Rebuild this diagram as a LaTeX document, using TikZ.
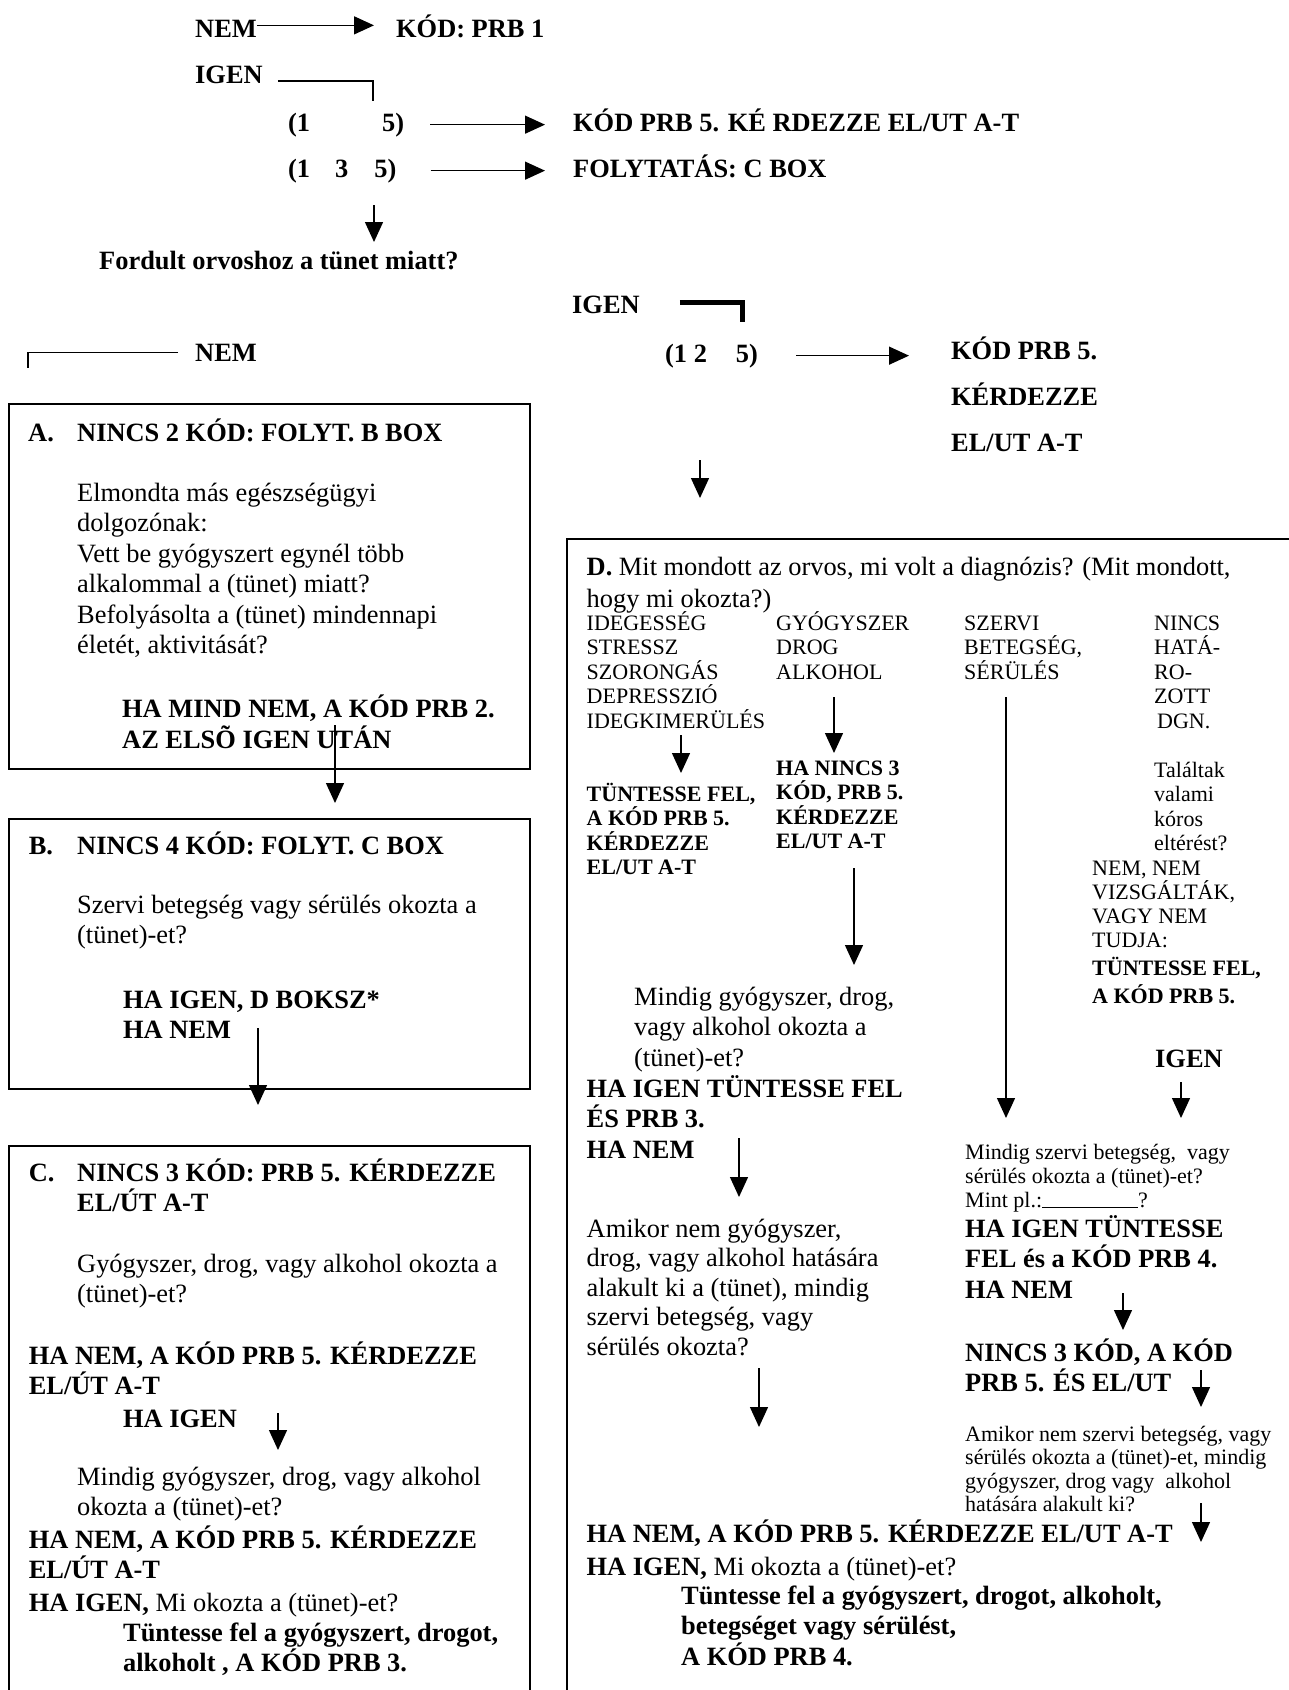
\documentclass[tikz,border=0pt]{standalone}
\usepackage{fontspec}
\setmainfont{Liberation Serif}
\usetikzlibrary{arrows.meta}

\begin{document}
\begin{tikzpicture}[x=1pt,y=-1pt,
  every node/.style={inner sep=0pt, anchor=base west, align=left},
  big/.style={font=\fontsize{26.4}{30.5}\selectfont},
  bigb/.style={font=\fontsize{26.4}{30.5}\selectfont\bfseries},
  sml/.style={font=\fontsize{22}{24.5}\selectfont},
  smlb/.style={font=\fontsize{22}{24.5}\selectfont\bfseries},
  arr/.style={-{Triangle[length=20pt,width=18pt]}, line width=1.4pt},
  ln/.style={line width=1.4pt},
  box/.style={draw, line width=1.8pt, anchor=north west}]
        \useasboundingbox (0,0) rectangle (1289,1690);
        \clip (0,0) rectangle (1289,1690);

        % top (multi-line nodes sit on the baseline of their last line)
        \node[bigb] (nem1) at (195,37) {NEM};
        \node[bigb] (kod1) at (396,37) {KÓD: PRB 1};
        \coordinate (n1) at ([yshift=3pt]nem1.east);
        \draw[arr, shorten >=22pt] (n1) -- (n1 -| kod1.west);
        \node[bigb] (igen1) at (195,83) {IGEN};
        \coordinate (b1) at (373,101);
        \draw[ln] (igen1.base east) ++(15,-2) -| (b1);
        \node[bigb] (r1) at (288,131) {(1\hspace{72pt}5)};
        \node[bigb] (k5a) at (573,131) {KÓD PRB 5. KÉ RDEZZE EL/UT A-T};
        \draw[arr, shorten <=26pt, shorten >=28pt] (r1.east) -- (r1.east -| k5a.west);
        \node[bigb] (r2) at (288,177) {(1\hspace{25pt}3\hspace{26pt}5)};
        \node[bigb] (fc) at (573,177) {FOLYTATÁS: C BOX};
        \draw[arr, shorten <=34pt, shorten >=28pt] (r2.east) -- (r2.east -| fc.west);
        \coordinate (q1s) at (374,205);
        \coordinate (q1e) at (374,242);
        \draw[arr] (q1s) -- (q1e);
        \node[bigb] (ford) at (99,269) {Fordult orvoshoz a tünet miatt?};

        % NEM branch
        \node[bigb] (nem2) at (195,361) {NEM};
        \draw[ln] (nem2.west) ++(-17,0) -- ++(-150,0) -- ++(0,16);

        % box A
        \node[box, minimum width=521pt, minimum height=365pt] (boxA) at (8,403) {};
        \node[bigb] (aA) at (28,441) {A.};
        \node[bigb] (aT) at (77,441) {NINCS 2 KÓD: FOLYT. B BOX};
        \node[big] (aQ) at (77,653.5) {Elmondta más egészségügyi\\dolgozónak:\\Vett be gyógyszert egynél több\\alkalommal a (tünet) miatt?\\Befolyásolta a (tünet) mindennapi\\életét, aktivitását?};
        \node[bigb] (aH) at (122,748) {HA MIND NEM, A KÓD PRB 2.\\AZ ELSÕ IGEN UTÁN};

        % box B
        \node[box, minimum width=521pt, minimum height=270pt] (boxB) at (8,818) {};
        \coordinate (a2b) at (335,725);
        \draw[arr, shorten >=15pt] (a2b) -- (a2b |- boxB.north);
        \node[bigb] (bB) at (28.6,854) {B.};
        \node[bigb] (bT) at (77,854) {NINCS 4 KÓD: FOLYT. C BOX};
        \node[big] (bQ) at (77,943.5) {Szervi betegség vagy sérülés okozta a\\(tünet)-et?};
        \node[bigb] (bH) at (123,1038.5) {HA IGEN, D BOKSZ*\\HA NEM};

        % box C
        \node[box, minimum width=521pt, minimum height=700pt] (boxC) at (8,1145) {};
        \coordinate (b2c) at (258,1028);
        \draw[arr, shorten >=40pt] (b2c) -- (b2c |- boxC.north);
        \node[bigb] (cC) at (28.6,1181) {C.};
        \node[bigb] (cT) at (77,1211.5) {NINCS 3 KÓD: PRB 5. KÉRDEZZE\\EL/ÚT A-T};
        \node[big] (cQ) at (77,1302.5) {Gyógyszer, drog, vagy alkohol okozta a\\(tünet)-et?};
        \node[bigb] (cH1) at (28.6,1394.5) {HA NEM, A KÓD PRB 5. KÉRDEZZE\\EL/ÚT A-T};
        \node[bigb] (cI) at (123,1427) {HA IGEN};
        \coordinate (c1s) at (278,1413);
        \coordinate (c1e) at (278,1450);
        \draw[arr] (c1s) -- (c1e);
        \node[big] (cQ2) at (77,1515.5) {Mindig gyógyszer, drog, vagy alkohol\\okozta a (tünet)-et?};
        \node[bigb] (cH2) at (28.6,1578.5) {HA NEM, A KÓD PRB 5. KÉRDEZZE\\EL/ÚT A-T};
        \node[big] (cI2) at (28.6,1611) {\textbf{HA IGEN,} Mi okozta a (tünet)-et?};
        \node[bigb] (cF) at (123,1671.5) {Tüntesse fel a gyógyszert, drogot,\\alkoholt , A KÓD PRB 3.};

        % IGEN branch
        \node[bigb] (igen2) at (572,313) {IGEN};
        \coordinate (b2) at (742,322);
        \draw[line width=5pt] (igen2.base east) ++(40,-11) -| (b2);
        \node[bigb] (r3) at (665,362) {(1 2\hspace{29pt}5)};
        \node[font=\fontsize{26.4}{46}\selectfont\bfseries] (k5b) at (951,451) {KÓD PRB 5.\\KÉRDEZZE\\EL/UT A-T};
        \draw[arr, shorten <=38pt, shorten >=42pt] (r3.east) -- (r3.east -| k5b.west);

        % box D
        \node[box, minimum width=800pt, minimum height=1300pt] (boxD) at (566,538) {};
        \coordinate (q2) at (700,460);
        \draw[arr, shorten >=40pt] (q2) -- (q2 |- boxD.north);
        \node[big] (dQ) at (586.5,607) {\textbf{D.} Mit mondott az orvos, mi volt a diagnózis? (Mit mondott,\\[1.5pt]hogy mi okozta?)};
        \node[sml] (c1) at (586.5,728) {IDEGESSÉG\\STRESSZ\\SZORONGÁS\\DEPRESSZIÓ\\IDEGKIMERÜLÉS};
        \node[sml] (c2) at (776,679) {GYÓGYSZER\\DROG\\ALKOHOL};
        \node[sml] (c3) at (964,679) {SZERVI\\BETEGSÉG,\\SÉRÜLÉS};
        \node[sml] (c4) at (1154,728) {NINCS\\HATÁ-\\RO-\\ZOTT\\\hspace{3pt}DGN.};

        % column 1
        \coordinate (s1) at (681,735);
        \coordinate (e1) at (681,773);
        \draw[arr] (s1) -- (e1);
        \node[smlb] (c1b) at (586.5,874.5) {TÜNTESSE FEL,\\A KÓD PRB 5.\\KÉRDEZZE\\EL/UT A-T};

        % column 2
        \coordinate (s2) at (834,697);
        \coordinate (e2) at (834,753);
        \draw[arr] (s2) -- (e2);
        \node[smlb] (c2b) at (776,848.5) {HA NINCS 3\\KÓD, PRB 5.\\KÉRDEZZE\\EL/UT A-T};
        \coordinate (s3) at (854,868);
        \coordinate (e3) at (854,965);
        \draw[arr] (s3) -- (e3);
        \node[big] (dM) at (634,1066) {Mindig gyógyszer, drog,\\vagy alkohol okozta a\\(tünet)-et?};
        \node[bigb] (dH) at (586.5,1158) {HA IGEN TÜNTESSE FEL\\ÉS PRB 3.\\HA NEM};
        \coordinate (s4) at (739,1138);
        \coordinate (e4) at (739,1197);
        \draw[arr] (s4) -- (e4);
        \node[big] (dA) at (586.5,1355) {Amikor nem gyógyszer,\\[-1pt]drog, vagy alkohol hatására\\[-1pt]alakult ki a (tünet), mindig\\[-1pt]szervi betegség, vagy\\[-1pt]sérülés okozta?};
        \coordinate (s5) at (759,1368);
        \coordinate (e5) at (759,1427);
        \draw[arr] (s5) -- (e5);

        % column 3 and 4
        \coordinate (s6) at (1006,697);
        \coordinate (e6) at (1006,1118);
        \draw[arr] (s6) -- (e6);
        \node[sml] (c4t) at (1154,850.5) {Találtak\\valami\\kóros\\eltérést?};
        \node[sml] (c4n) at (1092,947) {NEM, NEM\\[-0.5pt]VIZSGÁLTÁK,\\[-0.5pt]VAGY NEM\\[-0.5pt]TUDJA:};
        \node[smlb] (c4b) at (1092,1003) {TÜNTESSE FEL,\\[3.5pt]A KÓD PRB 5.};
        \node[bigb] (c4i) at (1155,1067) {IGEN};
        \coordinate (s7) at (1181,1082);
        \coordinate (e7) at (1181,1118);
        \draw[arr] (s7) -- (e7);
        \node[sml] (dS) at (965,1207) {Mindig szervi betegség,\ \ vagy\\[-0.5pt]sérülés okozta a (tünet)-et?\\[-0.5pt]Mint pl.:\rule[-1pt]{96pt}{1.2pt}?};
        \node[bigb] (dS2) at (965,1298) {HA IGEN TÜNTESSE\\FEL és a KÓD PRB 4.\\HA NEM};
        \coordinate (s8) at (1123,1293);
        \coordinate (e8) at (1123,1330);
        \draw[arr] (s8) -- (e8);
        \node[bigb] (dN) at (965,1391.5) {NINCS 3 KÓD, A KÓD\\PRB 5. ÉS EL/UT};
        \coordinate (s9) at (1201,1370);
        \coordinate (e9) at (1201,1407);
        \draw[arr] (s9) -- (e9);
        \node[sml] (dA2) at (965,1511.5) {Amikor nem szervi betegség, vagy\\[-1pt]sérülés okozta a (tünet)-et, mindig\\[-1pt]gyógyszer, drog vagy\ \ alkohol\\[-1pt]hatására alakult ki?};
        \coordinate (s10) at (1201,1503);
        \coordinate (e10) at (1201,1542);
        \draw[arr] (s10) -- (e10);

        % bottom of D
        \node[bigb] (dH2) at (586.5,1542) {HA NEM, A KÓD PRB 5. KÉRDEZZE EL/UT A-T};
        \node[big] (dI) at (586.5,1575) {\textbf{HA IGEN,} Mi okozta a (tünet)-et?};
        \node[bigb] (dF) at (681,1665) {Tüntesse fel a gyógyszert, drogot, alkoholt,\\betegséget vagy sérülést,\\A KÓD PRB 4.};
\end{tikzpicture}
\end{document}
